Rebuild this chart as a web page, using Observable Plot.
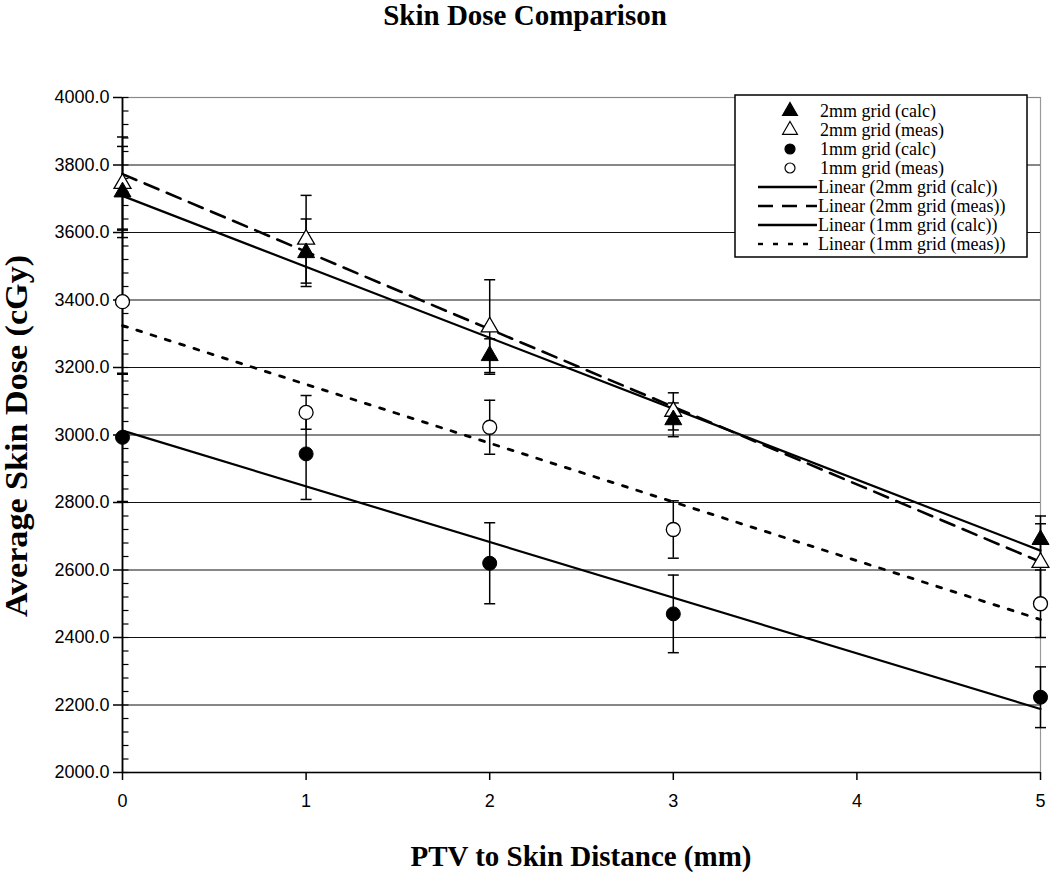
<!DOCTYPE html>
<html>
<head>
<meta charset="utf-8">
<script src="https://cdn.jsdelivr.net/npm/d3@7"></script>
<script src="https://cdn.jsdelivr.net/npm/@observablehq/plot@0.6"></script>
<style>
  html, body { margin: 0; padding: 0; background: #fff; }
  #wrap { position: relative; width: 1050px; height: 875px; overflow: hidden; }
  .serif { font-family: "Liberation Serif", "Times New Roman", serif; color: #000; }
  #title { position: absolute; left: 0; width: 1050px; top: 0px; line-height: 30px; text-align: center; font-weight: bold; font-size: 29px; }
  #xlabel { position: absolute; left: 122px; width: 918px; top: 840px; line-height: 32px; text-align: center; font-weight: bold; font-size: 29px; }
  #ylabel { position: absolute; left: 17px; top: 436px; transform: translate(-50%, -50%) rotate(-90deg) scaleX(1.1); white-space: nowrap; font-weight: bold; font-size: 31px; }
  #legend { position: absolute; left: 734px; top: 94px; }
  #chart { position: absolute; left: 0; top: 0; }
</style>
</head>
<body>
<div id="wrap">
  <div id="chart"></div>
  <div id="title" class="serif">Skin Dose Comparison</div>
  <div id="ylabel" class="serif">Average Skin Dose (cGy)</div>
  <div id="xlabel" class="serif">PTV to Skin Distance (mm)</div>
  <div id="legend"></div>
</div>
<script>
// ---- data ----
const distances = [0, 1, 2, 3, 5];
const calc2mm = [3720, 3540, 3235, 3045, 2690];
const calc2mmErr = [135, 100, 50, 50, 70];
const meas2mm = [3745, 3580, 3320, 3070, 2622];
const meas2mmErr = [138, 130, 140, 55, 115];
const calc1mm = [2993, 2944, 2620, 2470, 2223];
const calc1mmErr = [190, 135, 120, 115, 90];
const meas1mm = [3395, 3067, 3023, 2720, 2500];
const meas1mmErr = [215, 50, 80, 85, 100];

const seriesNames = ["2mm grid (calc)", "2mm grid (meas)", "1mm grid (calc)", "1mm grid (meas)"];
const yTicks = [2000, 2200, 2400, 2600, 2800, 3000, 3200, 3400, 3600, 3800, 4000];
const xTicks = [0, 1, 2, 3, 4, 5];
const xTickLabels = ["0", "1", "2", "3", "4", "5"];

// ---- build table ----
function rows(name, vals, errs) {
  return distances.map((x, i) => ({series: name, x, y: vals[i], e: errs[i]}));
}
const s2c = rows(seriesNames[0], calc2mm, calc2mmErr);
const s2m = rows(seriesNames[1], meas2mm, meas2mmErr);
const s1c = rows(seriesNames[2], calc1mm, calc1mmErr);
const s1m = rows(seriesNames[3], meas1mm, meas1mmErr);
const all = [...s2c, ...s2m, ...s1c, ...s1m];

const minorY = d3.range(2000, 4001, 40);

const capSymbol = {
  draw(ctx, size) {
    const w = Math.sqrt(size / Math.PI);
    ctx.moveTo(-w, 0);
    ctx.lineTo(w, 0);
  }
};
const rightTick = {
  draw(ctx, size) {
    const w = Math.sqrt(size / Math.PI);
    ctx.moveTo(0, 0);
    ctx.lineTo(w, 0);
  }
};

const lineStyles = {
  [seriesNames[0]]: {dash: null, w: 2.2},
  [seriesNames[1]]: {dash: "15,9", w: 2.6},
  [seriesNames[2]]: {dash: null, w: 2.2},
  [seriesNames[3]]: {dash: "5,10", w: 2.8}
};

const regMarks = [s2c, s2m, s1c, s1m].map(d => {
  const st = lineStyles[d[0].series];
  return Plot.linearRegressionY(d, {x: "x", y: "y", ci: 0, stroke: "#000", strokeWidth: st.w, strokeDasharray: st.dash});
});

const chart = Plot.plot({
  width: 1050,
  height: 875,
  marginLeft: 122,
  marginRight: 10,
  marginTop: 97,
  marginBottom: 103,
  style: {background: "transparent", fontFamily: "'Liberation Sans', Arial, sans-serif", color: "#000"},
  x: {domain: [0, 5]},
  y: {domain: [2000, 4000]},
  marks: [
    Plot.frame({stroke: "#999", strokeWidth: 1.2}),
    Plot.ruleY(yTicks.filter(v => v > 2000 && v < 4000), {stroke: "#111", strokeWidth: 1.2}),
    Plot.ruleY([4000], {stroke: "#888", strokeWidth: 1.2}),
    Plot.axisY(yTicks, {tickSize: 9, tickPadding: 4, tickFormat: d => d.toFixed(1), fontSize: 18, label: null, strokeWidth: 1.5}),
    Plot.dot(minorY, {x: 0, y: d => d, symbol: rightTick, r: 6, stroke: "#000", strokeWidth: 1.2}),
    Plot.axisX(xTicks, {tickSize: 8, tickPadding: 14, tickFormat: (d, i) => xTickLabels[i], fontSize: 18, label: null, strokeWidth: 1.5}),
    Plot.ruleY([2000], {stroke: "#000", strokeWidth: 1.6}),
    Plot.ruleX([0], {stroke: "#000", strokeWidth: 1.8}),
    ...regMarks,
    Plot.ruleX(all, {x: "x", y1: d => d.y - d.e, y2: d => d.y + d.e, stroke: "#000", strokeWidth: 1.5}),
    Plot.dot(all, {x: "x", y: d => d.y + d.e, symbol: capSymbol, r: 5.5, stroke: "#000", strokeWidth: 1.5}),
    Plot.dot(all, {x: "x", y: d => d.y - d.e, symbol: capSymbol, r: 5.5, stroke: "#000", strokeWidth: 1.5}),
    Plot.dot(s2m, {x: "x", y: "y", symbol: "triangle", r: 6.3, fill: "#fff", stroke: "#000", strokeWidth: 1.3}),
    Plot.dot(s2c, {x: "x", y: "y", symbol: "triangle", r: 6.3, fill: "#000", stroke: "#000", strokeWidth: 1}),
    Plot.dot(s1m, {x: "x", y: "y", symbol: "circle", r: 7, fill: "#fff", stroke: "#000", strokeWidth: 1.3}),
    Plot.dot(s1c, {x: "x", y: "y", symbol: "circle", r: 7, fill: "#000", stroke: "#000", strokeWidth: 1})
  ]
});
document.getElementById("chart").appendChild(chart);

// ---- legend ----
const legendItems = [
  {label: seriesNames[0], kind: "triFill"},
  {label: seriesNames[1], kind: "triOpen"},
  {label: seriesNames[2], kind: "cirFill"},
  {label: seriesNames[3], kind: "cirOpen"},
  {label: "Linear (" + seriesNames[0] + ")", kind: "line", dash: null},
  {label: "Linear (" + seriesNames[1] + ")", kind: "line", dash: "15,9"},
  {label: "Linear (" + seriesNames[2] + ")", kind: "line", dash: null},
  {label: "Linear (" + seriesNames[3] + ")", kind: "line", dash: "5,10"}
];
const lw = 294, lh = 164;
const lsvg = d3.create("svg").attr("width", lw).attr("height", lh);
lsvg.append("rect").attr("x", 1).attr("y", 1).attr("width", lw - 2).attr("height", lh - 2)
  .attr("fill", "#fff").attr("stroke", "#000").attr("stroke-width", 1.5);
const tri = d3.symbol(d3.symbolTriangle, 95)();
legendItems.forEach((it, i) => {
  const cy = 17 + i * 19;
  const g = lsvg.append("g").attr("transform", `translate(0,${cy})`);
  if (it.kind === "line") {
    g.append("line").attr("x1", 24).attr("x2", 83).attr("y1", 0).attr("y2", 0)
      .attr("stroke", "#000").attr("stroke-width", 2.4)
      .attr("stroke-dasharray", it.dash);
    g.append("text").attr("x", 84).attr("y", 0).attr("dy", "0.35em").text(it.label);
  } else {
    if (it.kind.startsWith("tri")) {
      g.append("path").attr("d", tri).attr("transform", "translate(56,0)")
        .attr("fill", it.kind === "triFill" ? "#000" : "#fff").attr("stroke", "#000").attr("stroke-width", 1.2);
    } else {
      g.append("circle").attr("cx", 56).attr("cy", 0).attr("r", 5)
        .attr("fill", it.kind === "cirFill" ? "#000" : "#fff").attr("stroke", "#000").attr("stroke-width", 1.2);
    }
    g.append("text").attr("x", 86).attr("y", 0).attr("dy", "0.35em").text(it.label);
  }
});
lsvg.selectAll("text").attr("font-family", "'Liberation Serif', 'Times New Roman', serif").attr("font-size", 18).attr("fill", "#000");
document.getElementById("legend").appendChild(lsvg.node());
</script>
</body>
</html>
